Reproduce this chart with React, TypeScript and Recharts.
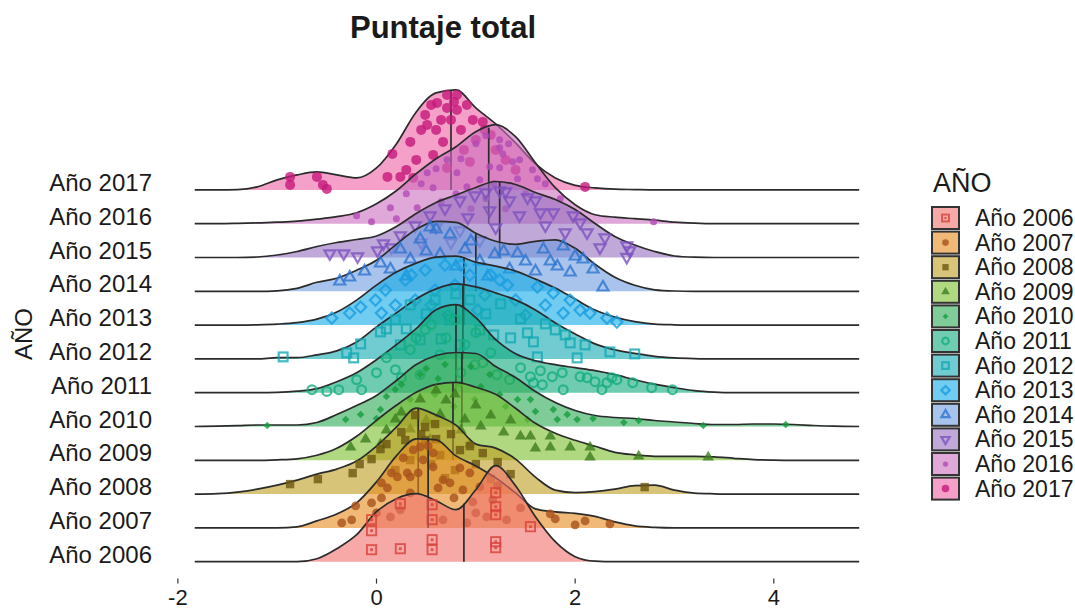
import React from 'react';
import { ComposedChart, Area, Line, Scatter, XAxis, YAxis } from 'recharts';

const FONT = "'Liberation Sans', Arial, Helvetica, sans-serif";
const TEXT = '#1a1a1a';
const OUTLINE = '#2b2b2b';

const years = ['2006', '2007', '2008', '2009', '2010', '2011', '2012', '2013', '2014', '2015', '2016', '2017'];
const yearLabels = years.map((y) => 'Año ' + y);
const xTicks = [-2, 0, 2, 4];
const yTicks = [0, 1, 2, 3, 4, 5, 6, 7, 8, 9, 10, 11];

// shared x grid of the density estimates
const xGrid = [-1.83, -1.6, -1.4, -1.2, -1.0, -0.8, -0.6, -0.4, -0.2, 0, 0.2, 0.4, 0.6, 0.8, 1.0, 1.2, 1.4, 1.6, 1.8, 2.0,
  2.2, 2.4, 2.6, 2.8, 3.0, 3.2, 3.4, 3.6, 3.8, 4.0, 4.2, 4.4, 4.6, 4.86];

// ridge heights (density)
const dens2006 = [0, 0, 0, 0, 0, 0, 3, 13, 27, 50, 63, 68, 61, 52, 72, 96, 76, 45, 20, 5, 0.5, 0, 0, 0, 0, 0, 0, 0, 0, 0, 0, 0, 0, 0];
const dens2007 = [0, 0, 0, 0, 0, 1, 7, 14, 25, 46, 72, 89, 88, 72, 62, 50, 35, 19, 16, 14.5, 11.5, 6, 2, 0.5, 0, 0, 0, 0, 0, 0, 0, 0, 0, 0];
const dens2008 = [0, 0.5, 2, 5, 9, 14, 20, 25, 33, 48, 67, 86, 79, 69, 50, 46, 35, 17, 4, 1.5, 2.5, 5, 8.5, 9, 4, 1, 0.3, 0, 0, 0, 0, 0, 0, 0];
const dens2009 = [0, 0, 0, 0, 0.5, 1.5, 5, 12, 24, 40, 55, 68, 76, 78, 73, 66, 52, 37, 27, 20, 14, 8, 5.5, 4, 4, 4, 3.5, 2, 0.7, 0.2, 0, 0, 0, 0];
const dens2010 = [0, 0.3, 0.8, 1.5, 1.5, 1.5, 4, 12, 21, 31, 46, 62, 71, 74, 73, 60, 49, 35, 24, 16, 11, 9, 8, 6, 4.5, 3, 2, 2, 2.5, 2.5, 2, 1, 0.3, 0];
const dens2011 = [0, 0, 0, 0, 0.3, 1.5, 4, 11, 20, 33, 48, 64, 83, 88, 75, 53, 39, 32, 28, 25, 22, 18, 13, 8.5, 5, 2, 0.5, 0, 0, 0, 0, 0, 0, 0];
const dens2012 = [0, 0, 0, 0, 1.2, 1.2, 4, 8, 17, 32, 46, 60, 70, 75, 72, 66, 59, 49, 36, 25, 15, 9, 5.5, 2.5, 1, 0.3, 0, 0, 0, 0, 0, 0, 0, 0];
const dens2013 = [0, 0, 0, 0.3, 1, 2.5, 6, 13, 25, 40, 53, 62, 68, 69, 63, 59, 54, 46, 37, 26, 15, 8, 3.5, 1, 0.3, 0, 0, 0, 0, 0, 0, 0, 0, 0];
const dens2014 = [0, 0, 0, 0, 0.5, 3, 9, 13, 21, 31, 47, 62, 70, 69, 58, 50, 47, 50, 51.5, 43, 27, 14, 6, 1.5, 0.3, 0, 0, 0, 0, 0, 0, 0, 0, 0];
const dens2015 = [0, 0, 0, 0.5, 2.5, 6, 11, 15, 18, 21.5, 31, 44, 55, 62.5, 70, 76, 73, 65, 58, 48, 34, 21, 12.5, 6, 1.5, 0.3, 0, 0, 0, 0, 0, 0, 0, 0];
const dens2016 = [0, 0, 0.3, 0.8, 1.5, 2.5, 4.5, 7, 11, 20, 33, 50, 65, 77, 92, 99, 87, 61, 36, 19, 9, 6.5, 5, 3.5, 1.5, 0.5, 0, 0, 0, 0, 0, 0, 0, 0];
const dens2017 = [0, 0, 0.3, 3, 10, 15, 18, 15, 12, 22, 46, 78, 97, 100, 82, 66, 47, 26, 12, 4.5, 2, 0.7, 0.3, 0, 0, 0, 0, 0, 0, 0, 0, 0, 0, 0];

// median (quantile line) position and ridge height there
const medianX = [0.88, 0.52, 0.42, 0.77, 0.86, 0.8, 0.87, 0.88, 1.0, 1.24, 1.13, 0.75];
const medianH = [58, 90, 86, 78, 74, 88, 75, 68, 58, 76, 96, 99];

// jittered points: [value, vertical jitter]
const pts2006 = [[-0.05, 42], [-0.05, 31], [-0.05, 12], [0.24, 58], [0.24, 13], [0.56, 42], [0.56, 22], [0.56, 12], [0.56, 57],
  [1.2, 69], [1.2, 55], [1.2, 47], [1.2, 20], [1.2, 14], [1.55, 35]];
const pts2007 = [[-0.35, 5], [-0.25, 8], [-0.21, 22], [-0.05, 25], [0.05, 30], [0.14, 11], [0.24, 18], [0.34, 35], [0.34, 51], [0.42, 55],
  [0.44, 81], [0.57, 75], [0.57, 61], [0.47, 68], [0.31, 55], [0.21, 51], [0.11, 40], [0.67, 48], [0.74, 45], [0.84, 60], [0.94, 55],
  [0.87, 38], [0.97, 26], [1.04, 41], [1.17, 28], [1.11, 11], [0.91, 5], [0.67, 8], [1.31, 8], [1.75, 14], [1.8, 9], [2.0, 3], [2.1, 7], [2.35, 4],
  [0.0, 15], [0.15, 55], [0.27, 70], [0.37, 78], [0.52, 82], [0.62, 40], [0.78, 30], [1.0, 15], [1.22, 42], [1.45, 20], [0.05, 45]];
const pts2008 = [[-0.87, 10], [-0.59, 15], [-0.24, 21], [-0.17, 30], [0.04, 45], [0.29, 54], [0.49, 67], [0.49, 54], [0.64, 39], [0.84, 44],
  [1.07, 41], [1.22, 32], [2.7, 7], [0.19, 24], [0.39, 79], [0.59, 70], [0.79, 24], [0.94, 48], [0.34, 34], [0.69, 16],
  [0.1, 50], [0.25, 62], [0.45, 60], [0.55, 30], [0.75, 60], [1.0, 30], [1.15, 15], [1.35, 20], [-0.05, 35], [0.6, 55]];
const pts2009 = [[1.55, 24], [1.75, 24], [1.75, 13], [1.95, 13], [2.15, 13], [2.15, 3], [2.64, 4], [3.34, 3], [1.05, 34], [1.28, 28], [1.45, 24],
  [0.04, 16], [0.19, 41], [0.34, 31], [0.44, 61], [0.64, 46], [0.79, 66], [0.89, 41], [0.54, 21], [0.94, 16], [-0.26, 13], [-0.11, 21],
  [0.1, 30], [0.25, 48], [0.5, 40], [0.7, 60], [0.85, 30], [1.0, 55], [1.15, 45], [1.35, 40], [1.6, 12], [0.6, 70]];
const pts2010 = [[-1.1, 1], [4.12, 2], [3.29, 1], [1.55, 27], [1.78, 17], [1.82, 7], [2.02, 7], [2.18, 8], [2.49, 4], [2.64, 6], [1.52, 7],
  [1.42, 27], [0.04, 17], [0.19, 37], [0.34, 27], [0.44, 52], [0.59, 32], [0.69, 62], [0.84, 42], [0.99, 27], [1.14, 52], [1.24, 32],
  [-0.16, 12], [-0.31, 7], [0.1, 30], [0.25, 42], [0.5, 58], [0.62, 48], [0.78, 20], [0.95, 60], [1.05, 40], [1.3, 20], [1.6, 15],
  [1.92, 12], [0.0, 8]];
const pts2011 = [[-0.65, 3], [-0.5, 1.3], [-0.38, 3], [-0.2, 13], [-0.15, 3], [0.0, 20], [1.55, 16], [1.58, 10], [1.67, 8], [1.77, 16],
  [1.87, 20], [1.88, 3], [2.12, 15], [2.2, 11], [2.27, 3], [2.32, 10], [2.37, 15], [2.42, 13], [2.58, 10], [2.77, 5], [2.98, 3], [1.07, 30],
  [1.21, 18], [0.19, 23], [0.34, 43], [0.49, 63], [0.64, 38], [0.79, 73], [0.89, 48], [0.99, 28], [1.34, 13], [0.44, 18],
  [0.1, 35], [0.25, 15], [0.4, 55], [0.55, 68], [0.7, 55], [0.85, 20], [1.0, 60], [1.15, 40], [1.45, 25], [1.65, 22], [2.05, 16]];
const pts2012 = [[-0.94, 2], [-0.3, 6], [-0.23, 1], [-0.16, 15], [0.04, 27], [1.52, 26], [1.58, 17], [1.62, 2], [1.8, 29], [1.9, 24],
  [1.95, 16], [2.02, 1], [2.35, 7], [2.6, 5], [1.18, 24], [1.35, 21], [0.19, 39], [0.34, 54], [0.44, 19], [0.59, 59], [0.74, 39],
  [0.94, 59], [1.04, 29], [0.24, 14], [0.84, 14], [0.1, 30], [0.3, 30], [0.5, 45], [0.65, 20], [0.8, 65], [1.1, 45], [1.25, 55],
  [1.45, 40], [1.7, 35], [2.1, 14]];
const pts2013 = [[-0.45, 7], [-0.27, 12], [-0.16, 18], [-0.01, 25], [0.09, 35], [0.19, 20], [0.29, 45], [0.39, 25], [0.49, 55], [0.59, 35],
  [0.69, 60], [0.79, 40], [0.94, 50], [1.09, 30], [1.24, 45], [1.4, 25], [1.62, 38], [1.78, 32], [1.95, 25], [2.15, 12], [2.32, 7],
  [2.42, 3], [1.5, 10], [0.05, 12], [0.35, 50], [0.55, 20], [0.72, 10], [0.85, 60], [1.02, 15], [1.15, 50], [1.32, 40], [1.7, 20],
  [1.88, 12], [2.05, 15]];
const pts2014 = [[-0.37, 10], [-0.27, 14], [-0.12, 20], [0.04, 28], [0.14, 22], [0.24, 42], [0.34, 32], [0.44, 52], [0.54, 64], [0.64, 37],
  [0.74, 57], [0.89, 42], [1.04, 30], [1.19, 37], [1.34, 22], [1.5, 30], [1.68, 42], [1.75, 30], [1.88, 45], [1.95, 19], [2.08, 32],
  [2.18, 22], [2.28, 4], [0.3, 15], [0.5, 40], [0.6, 62], [0.8, 25], [0.95, 50], [1.12, 15], [1.28, 40], [1.42, 38], [1.6, 20],
  [1.82, 25], [2.0, 35]];
const pts2015 = [[-0.47, 4], [-0.33, 4], [-0.19, 1], [0.01, 7], [0.07, 14], [0.24, 22], [0.39, 32], [0.54, 42], [0.69, 49], [0.84, 57],
  [0.99, 62], [1.14, 47], [1.24, 67], [1.34, 57], [1.44, 42], [1.6, 57], [1.7, 32], [1.78, 45], [1.98, 42], [2.12, 25], [2.25, 10],
  [2.52, 12], [2.52, 0.5], [2.55, 7], [0.84, 27], [1.04, 17], [0.15, 10], [0.45, 15], [0.6, 30], [0.75, 15], [0.92, 40], [1.1, 65],
  [1.2, 30], [1.3, 66], [1.52, 60], [1.65, 45], [1.9, 25], [2.05, 35], [2.3, 20]];
const pts2016 = [[-0.2, 8], [-0.05, 2], [0.14, 16], [0.41, 16], [0.57, 36], [0.51, 51], [0.71, 64], [0.81, 51], [0.91, 37], [1.04, 44],
  [1.14, 57], [1.24, 76], [1.24, 56], [1.37, 62], [1.24, 84], [1.27, 70], [1.44, 64], [1.57, 54], [1.7, 40], [1.85, 25], [2.79, 2],
  [0.3, 30], [0.65, 22], [0.95, 15], [1.1, 25], [0.2, 5], [1.5, 30], [0.45, 40], [0.6, 55], [0.85, 65], [1.0, 80], [1.1, 88],
  [1.18, 40], [1.33, 80], [1.42, 45], [1.62, 45], [0.8, 30], [1.3, 15]];
const pts2017 = [[-0.87, 13], [-0.87, 5], [-0.6, 13], [-0.54, 5], [-0.5, 1], [0.16, 36], [0.24, 13], [0.34, 48], [0.49, 75], [0.51, 65],
  [0.61, 87], [0.71, 95], [0.81, 95], [0.71, 82], [0.81, 80], [0.91, 85], [0.97, 70], [1.07, 68], [0.67, 48], [0.57, 35], [0.71, 22],
  [0.94, 28], [0.37, 12], [0.11, 13], [1.09, 60], [2.1, 3], [1.2, 40], [1.0, 50], [0.4, 30], [0.85, 60], [0.45, 60], [0.55, 85],
  [0.65, 70], [0.75, 70], [0.88, 40], [1.15, 55], [1.3, 30], [1.4, 20], [0.3, 20], [0.6, 60], [0.78, 88]];

const densities = [dens2006, dens2007, dens2008, dens2009, dens2010, dens2011, dens2012, dens2013, dens2014, dens2015, dens2016, dens2017];
const points = [pts2006, pts2007, pts2008, pts2009, pts2010, pts2011, pts2012, pts2013, pts2014, pts2015, pts2016, pts2017];

const fills = ['#F0706A', '#E68A1E', '#BE9D1E', '#7BBE2B', '#2BAA53', '#11AA7B', '#11AAB1', '#11AAE6', '#6E9DDF', '#966EBE', '#CB6EBE', '#ED61A3'];
const pointColors = ['#D9413B', '#A8531B', '#6B5712', '#3F7D1F', '#159C3E', '#14AE7E', '#14A9B4', '#1A9FE0', '#2D76CF', '#7D51BF', '#B24BB5', '#C6197B'];

// one ridge step on the y axis equals this many density units
const RIDGE_UNIT = 33.8;

const ridgeTable = xGrid.map((x, k) => {
  const row: Record<string, number> = { x };
  densities.forEach((d, i) => {
    row['r' + i] = i + d[k] / RIDGE_UNIT;
  });
  return row;
});
const medianData = medianX.map((m, i) => [
  { x: m, v: i },
  { x: m, v: i + medianH[i] / RIDGE_UNIT },
]);
const pointData = points.map((list, i) => list.map(([x, h]) => ({ x, v: i + h / RIDGE_UNIT })));

function tri(cx: number, cy: number, L: number, down: boolean) {
  const a = L * 0.577;
  const b = L * 0.289;
  if (down) return `M${cx},${cy + a} L${cx - L / 2},${cy - b} L${cx + L / 2},${cy - b} Z`;
  return `M${cx},${cy - a} L${cx - L / 2},${cy + b} L${cx + L / 2},${cy + b} Z`;
}

function Marker({ kind, cx, cy, s = 1 }: { kind: number; cx: number; cy: number; s?: number }) {
  const c = pointColors[kind];
  const op = 0.8;
  switch (kind) {
    case 0:
      return (
        <g opacity={op}>
          <rect x={cx - 4.6 * s} y={cy - 4.6 * s} width={9.2 * s} height={9.2 * s} fill="none" stroke={c} strokeWidth={1.9} />
          <rect x={cx - 1.4 * s} y={cy - 1.4 * s} width={2.8 * s} height={2.8 * s} fill={c} />
        </g>
      );
    case 1:
      return <circle cx={cx} cy={cy} r={4.4 * s} fill={c} opacity={op} />;
    case 2:
      return <rect x={cx - 4.2 * s} y={cy - 4.2 * s} width={8.4 * s} height={8.4 * s} fill={c} opacity={op} />;
    case 3:
      return <path d={tri(cx, cy, 11.5 * s, false)} fill={c} opacity={op} />;
    case 4:
      return <path d={`M${cx},${cy - 3.8 * s} L${cx + 3.8 * s},${cy} L${cx},${cy + 3.8 * s} L${cx - 3.8 * s},${cy} Z`} fill={c} opacity={op} />;
    case 5:
      return <circle cx={cx} cy={cy} r={4.4 * s} fill="none" stroke={c} strokeWidth={2.2} opacity={op} />;
    case 6:
      return <rect x={cx - 4.4 * s} y={cy - 4.4 * s} width={8.8 * s} height={8.8 * s} fill="none" stroke={c} strokeWidth={2.2} opacity={op} />;
    case 7:
      return <path d={`M${cx},${cy - 5.6 * s} L${cx + 5.6 * s},${cy} L${cx},${cy + 5.6 * s} L${cx - 5.6 * s},${cy} Z`} fill="none" stroke={c} strokeWidth={2.2} opacity={op} />;
    case 8:
      return <path d={tri(cx, cy, 11 * s, false)} fill="none" stroke={c} strokeWidth={2.2} opacity={op} />;
    case 9:
      return <path d={tri(cx, cy, 11 * s, true)} fill="none" stroke={c} strokeWidth={2.2} opacity={op} />;
    case 10:
      return <circle cx={cx} cy={cy} r={3.5 * s} fill={c} opacity={op} />;
    default:
      return <circle cx={cx} cy={cy} r={5 * s} fill={c} opacity={op} />;
  }
}

const YTick = (props: any) => {
  const { x, y, payload } = props;
  return (
    <text x={x} y={y + 1} textAnchor="end" fontSize={24} fill={TEXT} fontFamily={FONT}>
      {yearLabels[payload.value]}
    </text>
  );
};

const drawOrder = [11, 10, 9, 8, 7, 6, 5, 4, 3, 2, 1, 0];

export default function App() {
  const series = drawOrder
    .map((i, r) => [
      <Area
        key={'a' + i}
        dataKey={'r' + i}
        type="monotone"
        baseValue={i}
        stroke={OUTLINE}
        strokeWidth={1.7}
        fill={fills[i]}
        fillOpacity={0.6}
        dot={false}
        activeDot={false}
        isAnimationActive={false}
        zIndex={100 + r * 3}
      />,
      <Line
        key={'m' + i}
        data={medianData[i]}
        dataKey="v"
        type="linear"
        stroke={OUTLINE}
        strokeWidth={1.7}
        dot={false}
        activeDot={false}
        isAnimationActive={false}
        zIndex={101 + r * 3}
      />,
      <Scatter
        key={'s' + i}
        data={pointData[i]}
        dataKey="v"
        shape={(p: any) => <Marker kind={i} cx={p.cx} cy={p.cy} />}
        isAnimationActive={false}
        zIndex={102 + r * 3}
      />,
    ])
    .flat();

  return (
    <div style={{ position: 'absolute', left: 0, top: 0, width: 1075, height: 610, background: '#fff' }}>
      <ComposedChart
        width={1075}
        height={610}
        data={ridgeTable}
        margin={{ top: 71.6, right: 201.9, bottom: 1.4, left: 8 }}
      >
        <XAxis
          dataKey="x"
          type="number"
          domain={[-2.2, 5]}
          ticks={xTicks}
          allowDataOverflow
          axisLine={false}
          tickLine={{ stroke: '#333', strokeWidth: 1.2 }}
          tickSize={5}
          tickMargin={6}
          height={30}
          tick={{ fontSize: 22, fill: TEXT, fontFamily: FONT }}
        />
        <YAxis
          type="number"
          domain={[-0.5, 14.5]}
          ticks={yTicks}
          allowDataOverflow
          axisLine={false}
          tickLine={false}
          tickSize={0}
          tickMargin={6}
          width={150}
          tick={<YTick />}
        />
        {series}
      </ComposedChart>
      <svg width={1075} height={610} style={{ position: 'absolute', left: 0, top: 0, pointerEvents: 'none' }}>
        <text x={443} y={38} textAnchor="middle" fontSize={31} fontWeight="bold" fill={TEXT} fontFamily={FONT}>
          Puntaje total
        </text>
        <text transform="translate(32, 334) rotate(-90)" textAnchor="middle" fontSize={24} fill={TEXT} fontFamily={FONT}>
          AÑO
        </text>
        <text x={933} y={192} fontSize={27} fill={TEXT} fontFamily={FONT}>
          AÑO
        </text>
        {years.map((y, i) => {
          const top = 207 + 24.6 * i;
          return (
            <g key={y}>
              <rect x={932} y={top} width={27} height={22} fill="#fff" />
              <rect x={932} y={top} width={27} height={22} fill={fills[i]} fillOpacity={0.6} stroke="#333" strokeWidth={2} />
              <Marker kind={i} cx={945.5} cy={top + 11} s={0.75} />
              <text x={975} y={top + 19} fontSize={23} fill={TEXT} fontFamily={FONT}>
                {yearLabels[i]}
              </text>
            </g>
          );
        })}
      </svg>
    </div>
  );
}
